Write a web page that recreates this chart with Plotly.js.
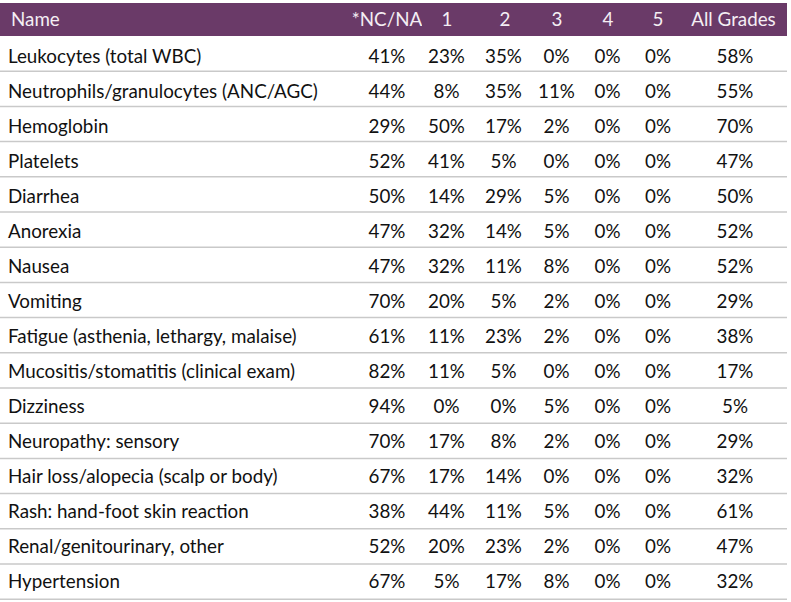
<!DOCTYPE html>
<html><head><meta charset="utf-8">
<script src="https://cdn.plot.ly/plotly-3.0.1.min.js"></script>
<style>html,body{margin:0;padding:0;background:#fff;}#chart{width:791px;height:602px;}</style>
</head><body><div id="chart"></div>
<script>
var headers = ["Name", "*NC/NA", "1", "2", "3", "4", "5", "All Grades"];
var names = ["Leukocytes (total WBC)", "Neutrophils/granulocytes (ANC/AGC)", "Hemoglobin", "Platelets", "Diarrhea", "Anorexia", "Nausea", "Vomiting", "Fatigue (asthenia, lethargy, malaise)", "Mucositis/stomatitis (clinical exam)", "Dizziness", "Neuropathy: sensory", "Hair loss/alopecia (scalp or body)", "Rash: hand-foot skin reaction", "Renal/genitourinary, other", "Hypertension"];
var ncna   = [41, 44, 29, 52, 50, 47, 47, 70, 61, 82, 94, 70, 67, 38, 52, 67];
var grade1 = [23, 8, 50, 41, 14, 32, 32, 20, 11, 11, 0, 17, 17, 44, 20, 5];
var grade2 = [35, 35, 17, 5, 29, 14, 11, 5, 23, 5, 0, 8, 14, 11, 23, 17];
var grade3 = [0, 11, 2, 0, 5, 5, 8, 2, 2, 0, 5, 2, 0, 5, 2, 8];
var grade4 = [0, 0, 0, 0, 0, 0, 0, 0, 0, 0, 0, 0, 0, 0, 0, 0];
var grade5 = [0, 0, 0, 0, 0, 0, 0, 0, 0, 0, 0, 0, 0, 0, 0, 0];
var allGrades = [58, 55, 70, 47, 50, 52, 52, 29, 38, 17, 5, 29, 32, 61, 47, 32];

var W = 791, H = 602;
var topPx = 3, headBottom = 36, lineStep = 35.2, rightPx = 787;
var bodyTop = 39.5, spacerH = 1, bodyRowH = 35.05;
function pct(a){ return a.map(function(v){ return v + "%"; }); }
function py(p){ return 1 - p / H; }
var font = "Lato, 'Open Sans', sans-serif";
var fs = 18.8;
var aligns = ["left", "center", "center", "center", "center", "center", "center", "center"];
var clear = "rgba(0,0,0,0)";

var headerTrace = {
  type: "table",
  domain: {x: [3 / W, 1], y: [py(headBottom), py(topPx + 1)]},
  columnwidth: [349, 70, 50, 66, 38, 64, 36, 115],
  header: {
    values: headers,
    align: aligns,
    height: headBottom - topPx - 1,
    fill: {color: clear},
    line: {color: clear, width: 0},
    font: {family: font, size: fs, color: "#f4eef4"}
  },
  cells: {
    values: headers.map(function(){ return []; }),
    fill: {color: clear},
    line: {color: clear, width: 0}
  }
};

var bodyTrace = {
  type: "table",
  domain: {x: [0, rightPx / W], y: [0, py(bodyTop)]},
  columnwidth: [357, 60, 59, 55, 51, 51, 50, 104],
  header: {
    values: headers.map(function(){ return ""; }),
    height: spacerH,
    fill: {color: clear},
    line: {color: clear, width: 0},
    font: {size: 1, color: clear}
  },
  cells: {
    values: [names, pct(ncna), pct(grade1), pct(grade2), pct(grade3), pct(grade4), pct(grade5), pct(allGrades)],
    align: aligns,
    height: bodyRowH,
    fill: {color: clear},
    line: {color: clear, width: 0},
    font: {family: font, size: fs, color: "#111111"}
  }
};

var shapes = [{type: "rect", xref: "paper", yref: "paper", layer: "below",
  x0: 0, x1: rightPx / W, y0: py(headBottom), y1: py(topPx),
  fillcolor: "#6a3a68", line: {width: 0}}];
for (var i = 0; i < names.length; i++) {
  var p = headBottom + lineStep * (i + 1);
  shapes.push({type: "line", xref: "paper", yref: "paper", layer: "below", x0: 0, x1: rightPx / W,
    y0: py(p), y1: py(p), line: {color: "#c9c9c9", width: 1.5}});
}

Plotly.newPlot("chart", [bodyTrace, headerTrace], {
  width: W, height: H,
  margin: {l: 0, r: 0, t: 0, b: 0, pad: 0},
  paper_bgcolor: "#ffffff",
  shapes: shapes,
  showlegend: false
}, {displayModeBar: false, staticPlot: true});
</script></body></html>
